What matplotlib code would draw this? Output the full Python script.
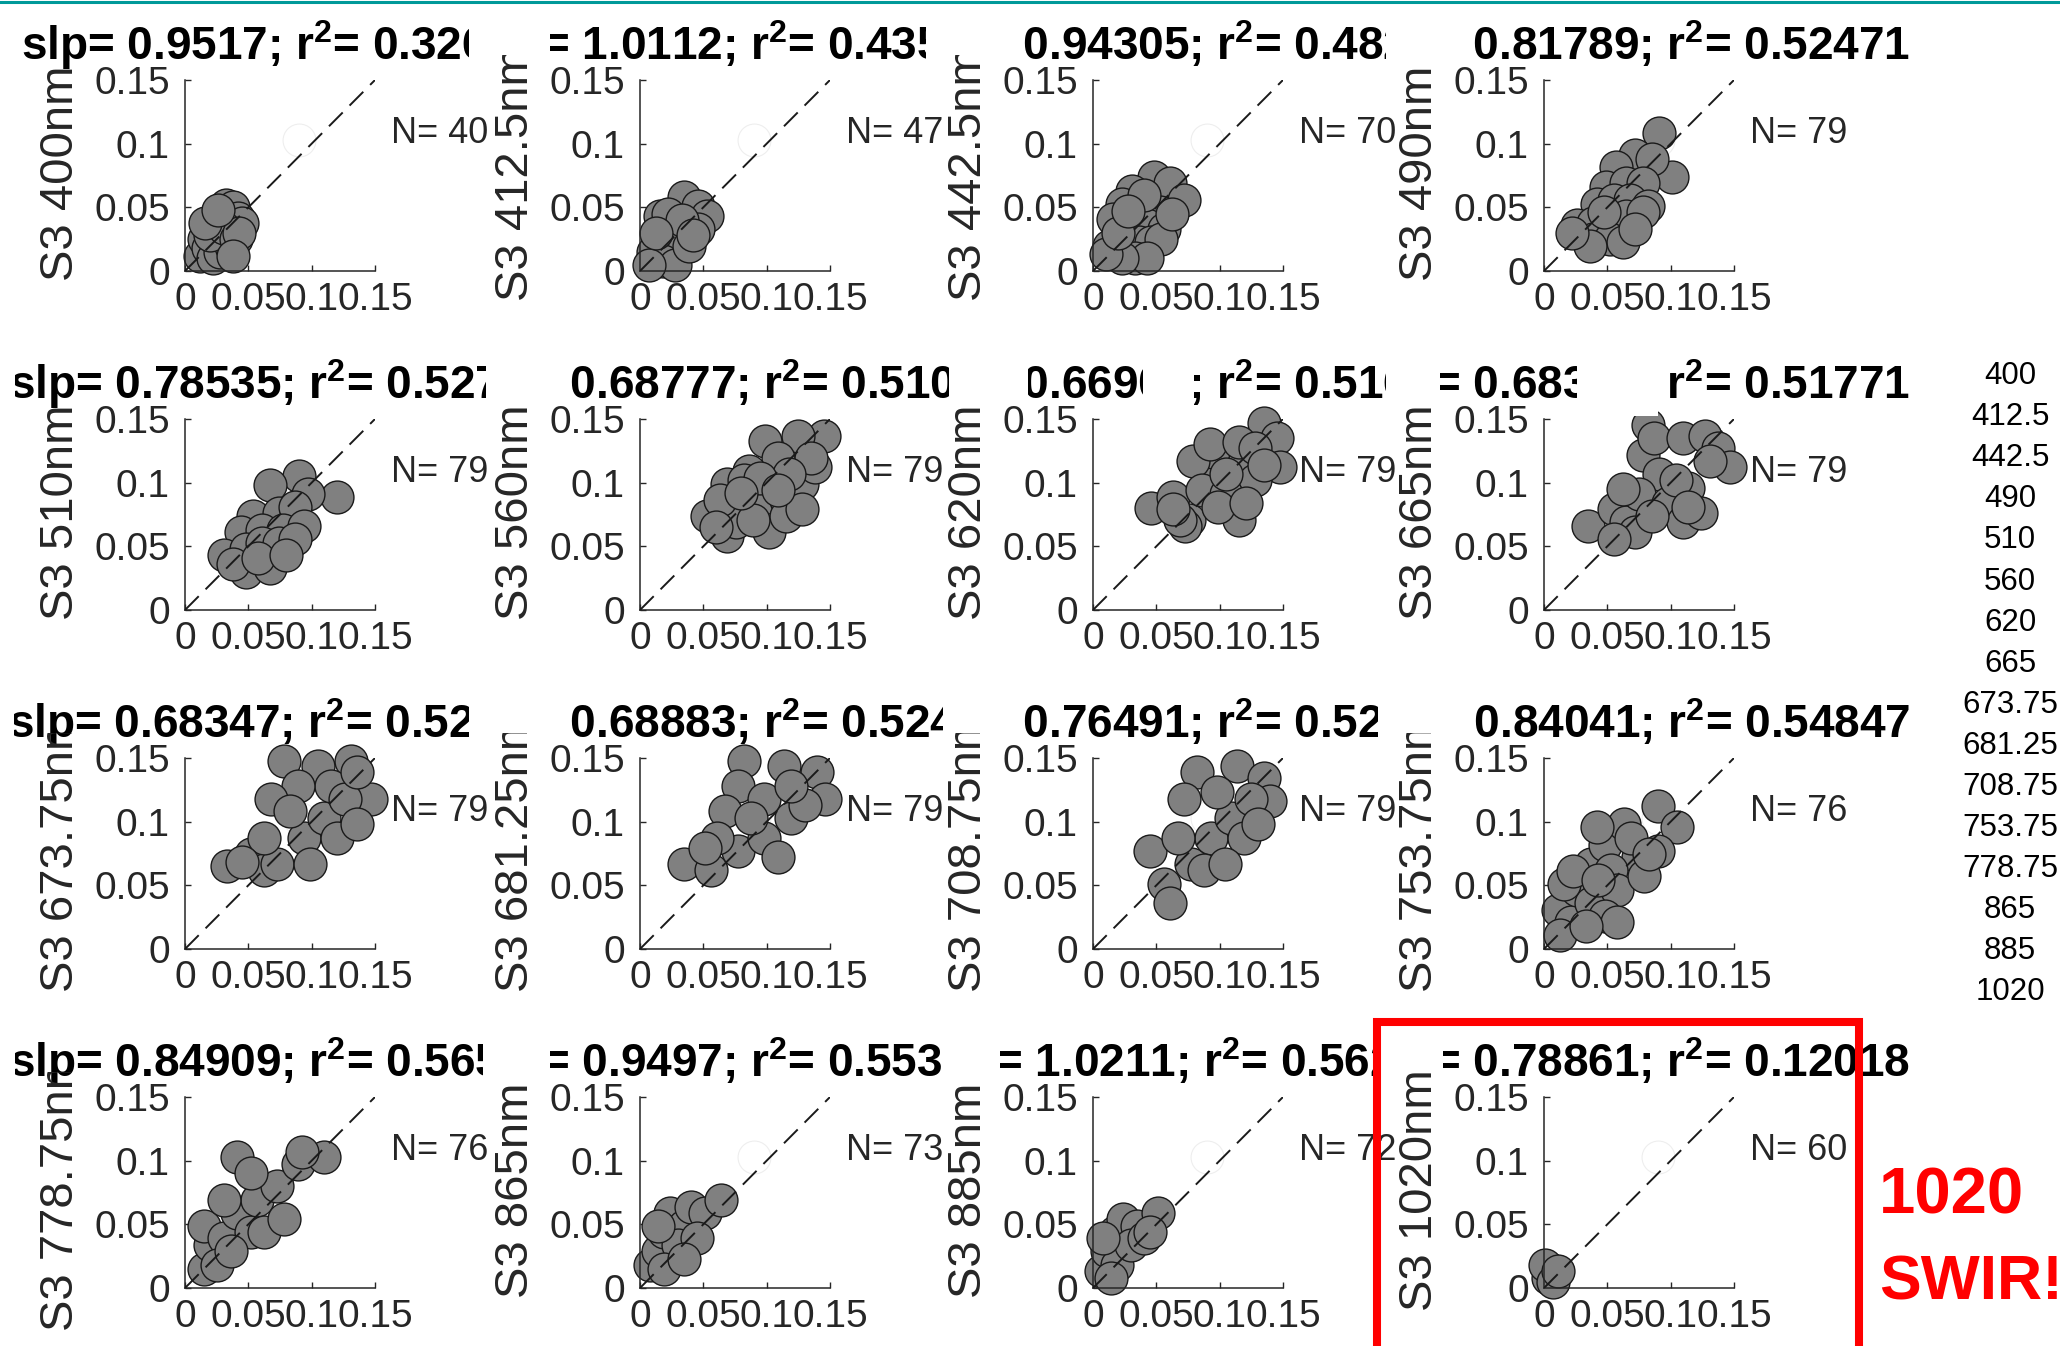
import matplotlib
matplotlib.use("Agg")
import matplotlib.pyplot as plt
from matplotlib.patches import Rectangle
from matplotlib.lines import Line2D
from matplotlib.transforms import Bbox, TransformedBbox

plt.rcParams['font.family'] = ['Liberation Sans', 'DejaVu Sans']
plt.rcParams['mathtext.fontset'] = 'custom'
plt.rcParams['mathtext.rm'] = 'Liberation Sans'
plt.rcParams['mathtext.bf'] = 'Liberation Sans:bold'

# bands (nm), one panel per band
bands = ['400', '412.5', '442.5', '490', '510', '560', '620', '665',
         '673.75', '681.25', '708.75', '753.75', '778.75', '865', '885', '1020']
slopes = ['0.9517', '1.0112', '0.94305', '0.81789', '0.78535', '0.68777', '0.66906', '0.68346',
          '0.68347', '0.68883', '0.76491', '0.84041', '0.84909', '0.9497', '1.0211', '0.78861']
r2s = ['0.32614', '0.43583', '0.48216', '0.52471', '0.52719', '0.51093', '0.51682', '0.51771',
       '0.52621', '0.52482', '0.52437', '0.54847', '0.56519', '0.55316', '0.56243', '0.12018']
counts = [40, 47, 70, 79, 79, 79, 79, 79, 79, 79, 79, 76, 76, 73, 72, 60]

# in situ (x) vs S3 (y) reflectance
x400 = [0.012, 0.015, 0.018, 0.020, 0.022, 0.025, 0.027, 0.030, 0.032, 0.035, 0.038, 0.040, 0.042,
        0.045, 0.028, 0.033, 0.036, 0.020, 0.024, 0.031, 0.040, 0.043, 0.016, 0.026, 0.038]
y400 = [0.012, 0.025, 0.018, 0.035, 0.010, 0.030, 0.022, 0.040, 0.052, 0.045, 0.050, 0.035, 0.042,
        0.038, 0.015, 0.028, 0.020, 0.028, 0.040, 0.034, 0.025, 0.030, 0.038, 0.048, 0.012]
x412 = [0.035, 0.046, 0.053, 0.016, 0.025, 0.036, 0.046, 0.020, 0.030, 0.010, 0.018, 0.028, 0.039,
        0.007, 0.022, 0.033, 0.042, 0.013]
y412 = [0.058, 0.051, 0.043, 0.043, 0.036, 0.033, 0.033, 0.025, 0.020, 0.015, 0.008, 0.005, 0.020,
        0.005, 0.045, 0.040, 0.028, 0.030]
x442 = [0.048, 0.061, 0.072, 0.031, 0.023, 0.039, 0.053, 0.016, 0.030, 0.043, 0.056, 0.013, 0.026,
        0.036, 0.046, 0.054, 0.033, 0.043, 0.023, 0.010, 0.020, 0.062, 0.040, 0.028]
y442 = [0.074, 0.069, 0.056, 0.063, 0.053, 0.051, 0.046, 0.041, 0.038, 0.036, 0.033, 0.020, 0.020,
        0.023, 0.023, 0.025, 0.010, 0.010, 0.010, 0.013, 0.030, 0.045, 0.060, 0.047]
x490 = [0.091, 0.101, 0.072, 0.057, 0.085, 0.049, 0.065, 0.078, 0.042, 0.055, 0.068, 0.082, 0.026,
        0.039, 0.052, 0.065, 0.078, 0.039, 0.052, 0.062, 0.072, 0.036, 0.022, 0.047]
y490 = [0.108, 0.074, 0.091, 0.082, 0.088, 0.066, 0.069, 0.069, 0.053, 0.056, 0.056, 0.051, 0.036,
        0.038, 0.041, 0.043, 0.046, 0.025, 0.025, 0.023, 0.033, 0.020, 0.030, 0.046]
x510 = [0.090, 0.067, 0.120, 0.097, 0.054, 0.074, 0.087, 0.044, 0.061, 0.077, 0.094, 0.031, 0.048,
        0.061, 0.074, 0.087, 0.048, 0.067, 0.038, 0.058, 0.080]
y510 = [0.105, 0.098, 0.089, 0.091, 0.074, 0.076, 0.081, 0.061, 0.063, 0.063, 0.066, 0.043, 0.048,
        0.053, 0.053, 0.056, 0.030, 0.033, 0.036, 0.041, 0.043]
x560 = [0.053, 0.069, 0.076, 0.089, 0.102, 0.115, 0.128, 0.138, 0.145, 0.125, 0.099, 0.109, 0.086,
        0.069, 0.082, 0.102, 0.076, 0.089, 0.115, 0.128, 0.135, 0.118, 0.063, 0.095, 0.109, 0.060, 0.080]
y560 = [0.074, 0.058, 0.084, 0.084, 0.089, 0.086, 0.099, 0.112, 0.137, 0.137, 0.133, 0.119, 0.109,
        0.099, 0.102, 0.061, 0.069, 0.071, 0.074, 0.079, 0.119, 0.107, 0.086, 0.104, 0.094, 0.065, 0.092]
x620 = [0.046, 0.063, 0.076, 0.073, 0.089, 0.112, 0.135, 0.145, 0.148, 0.128, 0.095, 0.079, 0.092,
        0.115, 0.128, 0.086, 0.105, 0.115, 0.099, 0.069, 0.063, 0.121, 0.135, 0.105]
y620 = [0.080, 0.089, 0.071, 0.066, 0.112, 0.112, 0.147, 0.135, 0.112, 0.102, 0.124, 0.117, 0.130,
        0.132, 0.127, 0.094, 0.091, 0.071, 0.081, 0.071, 0.079, 0.084, 0.114, 0.107]
x665 = [0.035, 0.055, 0.065, 0.072, 0.055, 0.082, 0.078, 0.087, 0.110, 0.127, 0.137, 0.147, 0.091,
        0.114, 0.075, 0.098, 0.110, 0.124, 0.104, 0.131, 0.114, 0.085, 0.062]
y665 = [0.066, 0.079, 0.069, 0.061, 0.056, 0.145, 0.122, 0.135, 0.135, 0.137, 0.127, 0.112, 0.107,
        0.096, 0.091, 0.084, 0.069, 0.076, 0.102, 0.117, 0.081, 0.074, 0.095]
x673 = [0.033, 0.052, 0.062, 0.073, 0.094, 0.110, 0.078, 0.105, 0.131, 0.147, 0.115, 0.089, 0.068,
        0.083, 0.126, 0.136, 0.099, 0.120, 0.136, 0.062, 0.045]
y673 = [0.065, 0.075, 0.062, 0.067, 0.087, 0.103, 0.148, 0.144, 0.148, 0.118, 0.128, 0.128, 0.118,
        0.108, 0.118, 0.139, 0.067, 0.087, 0.098, 0.087, 0.068]
x681 = [0.035, 0.056, 0.077, 0.098, 0.119, 0.082, 0.114, 0.140, 0.146, 0.077, 0.098, 0.067, 0.130,
        0.061, 0.109, 0.088, 0.119, 0.051]
y681 = [0.067, 0.062, 0.077, 0.087, 0.103, 0.148, 0.144, 0.139, 0.118, 0.128, 0.118, 0.108, 0.113,
        0.087, 0.072, 0.103, 0.128, 0.079]
x708 = [0.045, 0.056, 0.061, 0.077, 0.093, 0.109, 0.082, 0.114, 0.135, 0.140, 0.072, 0.098, 0.125,
        0.067, 0.119, 0.088, 0.104, 0.130]
y708 = [0.077, 0.051, 0.036, 0.067, 0.087, 0.103, 0.139, 0.144, 0.134, 0.116, 0.118, 0.123, 0.118,
        0.087, 0.087, 0.062, 0.067, 0.098]
x753 = [0.011, 0.021, 0.026, 0.037, 0.048, 0.063, 0.090, 0.105, 0.074, 0.053, 0.037, 0.058, 0.079,
        0.090, 0.048, 0.069, 0.042, 0.016, 0.058, 0.013, 0.023, 0.083, 0.033, 0.043]
y753 = [0.031, 0.021, 0.046, 0.067, 0.082, 0.098, 0.112, 0.096, 0.072, 0.062, 0.036, 0.046, 0.057,
        0.077, 0.026, 0.087, 0.096, 0.051, 0.021, 0.011, 0.061, 0.075, 0.018, 0.054]
x778 = [0.015, 0.020, 0.015, 0.031, 0.041, 0.052, 0.057, 0.073, 0.089, 0.110, 0.092, 0.041, 0.052,
        0.031, 0.025, 0.062, 0.078, 0.036]
y778 = [0.015, 0.034, 0.049, 0.039, 0.059, 0.044, 0.069, 0.080, 0.097, 0.103, 0.107, 0.103, 0.090,
        0.069, 0.018, 0.044, 0.054, 0.029]
x865 = [0.008, 0.014, 0.019, 0.024, 0.035, 0.040, 0.051, 0.064, 0.030, 0.019, 0.045, 0.014, 0.035]
y865 = [0.018, 0.029, 0.044, 0.059, 0.049, 0.064, 0.059, 0.069, 0.034, 0.015, 0.039, 0.049, 0.023]
x885 = [0.006, 0.011, 0.017, 0.024, 0.035, 0.051, 0.019, 0.030, 0.040, 0.008, 0.014, 0.045]
y885 = [0.013, 0.029, 0.044, 0.054, 0.049, 0.059, 0.018, 0.034, 0.039, 0.039, 0.008, 0.044]
x1020 = [0.005, 0.003, 0.008, 0.001, 0.007, 0.011]
y1020 = [0.015, 0.008, 0.011, 0.018, 0.005, 0.013]

xs = [x400, x412, x442, x490, x510, x560, x620, x665,
      x673, x681, x708, x753, x778, x865, x885, x1020]
ys = [y400, y412, y442, y490, y510, y560, y620, y665,
      y673, y681, y708, y753, y778, y865, y885, y1020]

ticks = [0, 0.05, 0.1, 0.15]
tick_labels = ['0', '0.05', '0.1', '0.15']

W, H = 2060, 1346
fig = plt.figure(figsize=(W / 100, H / 100), dpi=100)
fig.patch.set_facecolor('white')

def fx(px):
    return px / W

def fy(py):
    return 1 - py / H

def clipbox(x0, y0, x1, y1):
    # pixel box (top-left origin) -> clip box
    return TransformedBbox(Bbox.from_extents(fx(x0), fy(y1), fx(x1), fy(y0)), fig.transFigure)

col_left = [185, 640, 1093, 1544]
row_top = [80, 419, 758, 1097]
aw, ah = 190, 191
txt = '#262626'

# visible part of each title (the panels were pasted over each other)
title_clip = [[(15, 469), (550, 926), (1020, 1386), (1468, 2060)],
              [(15, 486), (556, 949), (1028, 1386), (1440, 2060)],
              [(14, 469), (566, 943), (1016, 1378), (1466, 2060)],
              [(15, 483), (550, 943), (1000, 1378), (1443, 2060)]]

for i in range(16):
    r, c = i // 4, i % 4
    left, top = col_left[c], row_top[r]
    ax = fig.add_axes([fx(left), fy(top + ah), aw / W, ah / H])
    ax.set_xlim(0, 0.15)
    ax.set_ylim(0, 0.15)
    ax.patch.set_alpha(0)
    for s in ['top', 'right']:
        ax.spines[s].set_visible(False)
    for s in ['left', 'bottom']:
        ax.spines[s].set_color(txt)
        ax.spines[s].set_linewidth(1.1)
    ax.set_xticks(ticks)
    ax.set_xticklabels(tick_labels)
    ax.set_yticks(ticks)
    ax.set_yticklabels(tick_labels)
    ax.tick_params(direction='in', length=4, width=1, colors=txt, labelsize=28)
    ax.tick_params(axis='y', pad=11)
    ax.tick_params(axis='x', pad=8)

    ax.scatter([0.09], [0.103], s=560, facecolor='white', edgecolor='#eeeeee',
               linewidth=0.8, zorder=1, clip_on=False)
    ax.scatter(xs[i], ys[i], s=560, facecolor='#808080', edgecolor='#1a1a1a',
               linewidth=1.0, zorder=2, clip_on=False)
    ax.plot([0, 0.15], [0, 0.15], color='#1a1a1a', linewidth=1.4, dashes=(10, 5), zorder=3)
    ax.text(0.163, 0.108, 'N= ' + str(counts[i]), fontsize=26, color=txt,
            ha='left', va='center', clip_on=False)

    t = fig.text(fx(left + aw / 2), fy(top - 20),
                 'slp= ' + slopes[i] + r'; r$^\mathbf{2}$= ' + r2s[i],
                 fontsize=33, fontweight='bold', color='black', ha='center', va='baseline')
    x0, x1 = title_clip[r][c]
    t.set_clip_on(True)
    t.set_clip_box(clipbox(x0, top - 78, x1, top - 2))

    yl = fig.text(fx(left - 124), fy(top + ah / 2 - 2), 'S3 ' + bands[i] + 'nm',
                  fontsize=34, color=txt, rotation=90, ha='center', va='center')
    yl.set_clip_on(True)
    yl.set_clip_box(clipbox(0, top - 25, W, H))

# white cut-outs over two of the titles
for gx0, gx1 in [(1143, 1194), (1577, 1658)]:
    fig.add_artist(Rectangle((fx(gx0), fy(row_top[1] - 3)), (gx1 - gx0) / W, 75 / H,
                             transform=fig.transFigure, facecolor='white',
                             edgecolor='none', zorder=5))

# band list at the right
for k, b in enumerate(bands):
    fig.text(fx(2010), fy(376 + k * 41.1), b, fontsize=22.5, color='black',
             ha='center', va='center')

# teal line at top of slide
fig.add_artist(Line2D([0, 1], [fy(2), fy(2)], color='#009999', linewidth=2.2,
                      transform=fig.transFigure))

# red highlight box and note
fig.add_artist(Rectangle((fx(1377), fy(1380)), (1859 - 1377) / W, (1380 - 1022) / H,
                         transform=fig.transFigure, facecolor='none', edgecolor='#ff0000',
                         linewidth=5.8, zorder=6))
fig.text(fx(1879), fy(1196), '1020', fontsize=47, fontweight='bold', color='#ff0000',
         ha='left', va='center')
fig.text(fx(1879), fy(1283), 'SWIR!', fontsize=45, fontweight='bold', color='#ff0000',
         ha='left', va='center')

fig.savefig('out.png', dpi=100, facecolor='white')
